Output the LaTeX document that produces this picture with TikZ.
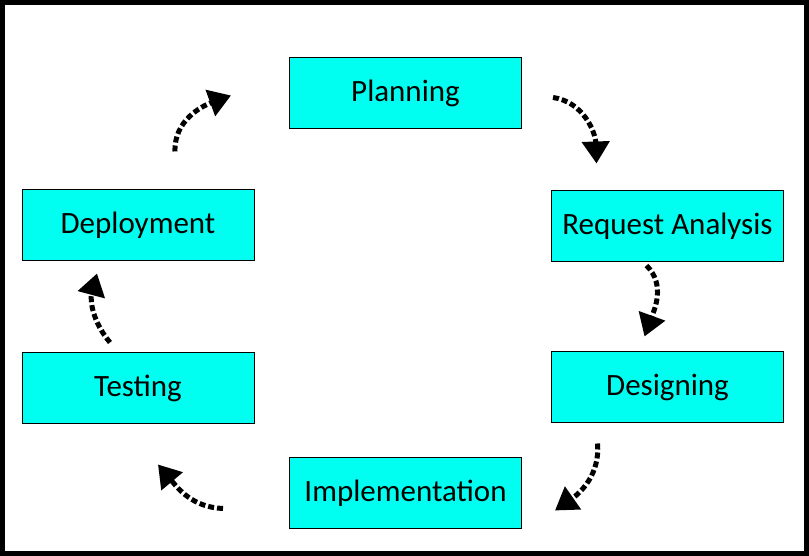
\documentclass[tikz,border=0pt]{standalone}
\usepackage{fontspec}
\setmainfont{Carlito}
\usetikzlibrary{arrows.meta}
\definecolor{boxcyan}{RGB}{0,255,240}
\tikzset{stage/.style = {draw=black, line width=1pt, fill=boxcyan, minimum width=232pt, minimum height=71pt, inner sep=0pt, font=\fontsize{31}{36}\selectfont},
         flow/.style  = {line width=5pt, dash pattern=on 6pt off 3pt, -{Triangle[length=22pt,width=27pt]}}}

\begin{document}
\begin{tikzpicture}[x=1pt,y=1pt]
        \useasboundingbox (0,0) rectangle (809,556);
        \draw[line width=5pt] (2.5,2.5) rectangle (806.5,553.5);

        \node[stage] (plan) at (405.5,462.5) {Planning};
        \node[stage] (req)  at (667.5,329.5) {Request Analysis};
        \node[stage] (des)  at (667.5,168.5) {Designing};
        \node[stage] (impl) at (405.5,62.5)  {Implementation};
        \node[stage] (test) at (138,167.5)   {Testing};
        \node[stage] (depl) at (138,330.5)   {Deployment};

        \coordinate (a1) at ([shift={(31,-4)}]plan.east);
        \coordinate (b1) at ([shift={(-71,27)}]req.north);
        \coordinate (a2) at ([shift={(-21,-3)}]req.south);
        \coordinate (b2) at ([shift={(-23,15)}]des.north);
        \coordinate (a3) at ([shift={(-70,-20)}]des.south);
        \coordinate (b3) at ([shift={(33,-17)}]impl.east);
        \coordinate (a4) at ([shift={(-66,-15)}]impl.west);
        \coordinate (b4) at ([shift={(20,-40)}]test.south);
        \coordinate (a5) at ([shift={(-28,10)}]test.north);
        \coordinate (b5) at ([shift={(-41,-12)}]depl.south);
        \coordinate (a6) at ([shift={(37,38)}]depl.north);
        \coordinate (b6) at ([shift={(-58,-2)}]plan.west);

        \draw[flow] (a1) to[out=-8,in=92] (b1);
        \draw[flow] (a2) to[out=-45,in=70] (b2);
        \draw[flow] (a3) to[out=-85,in=35] (b3);
        \draw[flow] (a4) to[out=178,in=-50] (b4);
        \draw[flow] (a5) to[out=130,in=-105] (b5);
        \draw[flow] (a6) to[out=92,in=200] (b6);
    \end{tikzpicture}
\end{document}
